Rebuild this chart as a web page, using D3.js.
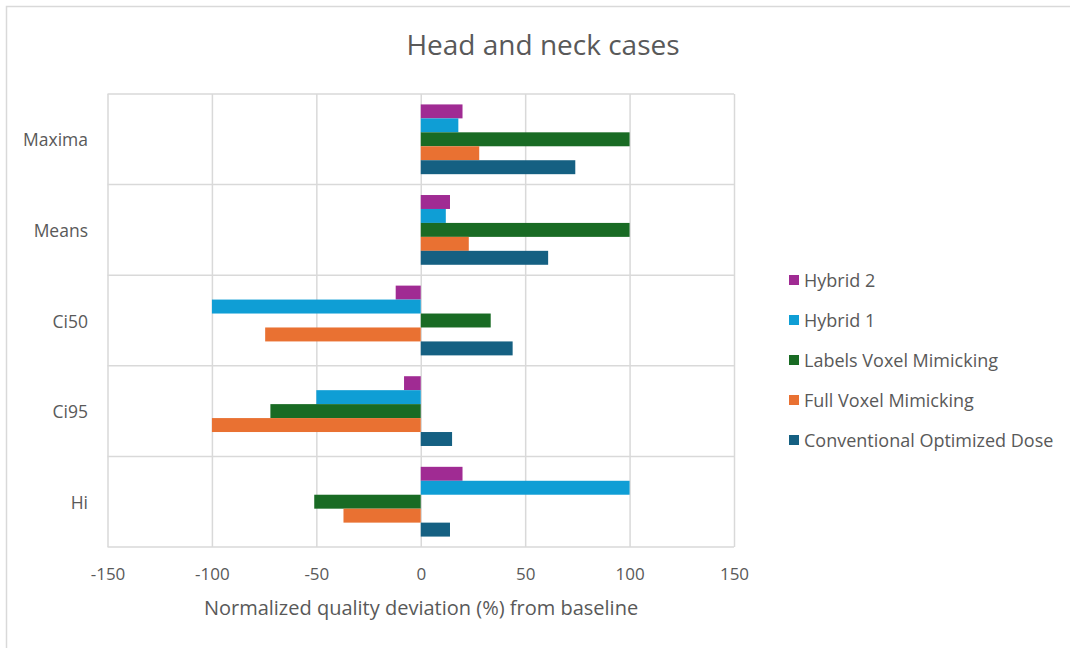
<!DOCTYPE html>
<html>
<head>
<meta charset="utf-8">
<script src="https://cdn.jsdelivr.net/npm/d3@7"></script>
<style>
  html, body { margin: 0; padding: 0; background: #fff; }
  svg { display: block; }
  text { font-family: "Open Sans", "Noto Sans", sans-serif; fill: #595959; }
</style>
</head>
<body>
<svg id="chart" width="1070" height="648"></svg>
<script>
// Categories, top to bottom
const categories = ["Maxima", "Means", "Ci50", "Ci95", "Hi"];

// Series, in the order they are stacked inside each category (top to bottom)
const seriesNames = ["Hybrid 2", "Hybrid 1", "Labels Voxel Mimicking", "Full Voxel Mimicking", "Conventional Optimized Dose"];
const seriesColors = ["#A02B93", "#0F9ED5", "#196B24", "#E97132", "#156082"];

// Values per series, aligned with categories
const hybrid2 = [20, 14, -12, -8, 20];
const hybrid1 = [18, 12, -100, -50, 100];
const labelsVoxel = [100, 100, 33.5, -72, -51];
const fullVoxel = [28, 23, -74.5, -100, -37];
const conventional = [74, 61, 44, 15, 14];
const seriesValues = [hybrid2, hybrid1, labelsVoxel, fullVoxel, conventional];

const xTicks = [-150, -100, -50, 0, 50, 100, 150];

const svg = d3.select("#chart");
const W = 1070, H = 648;

// outer chart frame
svg.append("rect")
  .attr("x", 6.5).attr("y", 6.5)
  .attr("width", W + 10).attr("height", H + 10)
  .attr("fill", "none").attr("stroke", "#d9d9d9").attr("stroke-width", 1.5);

const plot = { left: 107.5, right: 734, top: 94, bottom: 547 };

const x = d3.scaleLinear().domain([-150, 150]).range([plot.left, plot.right]);
const y0 = d3.scaleBand().domain(categories)
  .range([plot.top, plot.bottom]).paddingInner(0.23).paddingOuter(0.115);
const y1 = d3.scaleBand().domain(seriesNames).range([0, y0.bandwidth()]);

// title
svg.append("text")
  .attr("x", 543).attr("y", 55)
  .attr("text-anchor", "middle").attr("font-size", 28)
  .text("Head and neck cases");

// vertical gridlines via axis
svg.append("g")
  .attr("transform", `translate(0,${plot.top})`)
  .call(d3.axisBottom(x).tickValues(xTicks).tickSize(plot.bottom - plot.top).tickFormat(""))
  .call(g => g.select(".domain").remove())
  .call(g => g.selectAll("line").attr("stroke", "#d9d9d9").attr("stroke-width", 1.5));

// horizontal category separators
const sepY = d3.range(categories.length + 1).map(i => plot.top + i * (plot.bottom - plot.top) / categories.length);
svg.append("g").selectAll("line").data(sepY).join("line")
  .attr("x1", plot.left).attr("x2", plot.right)
  .attr("y1", d => d).attr("y2", d => d)
  .attr("stroke", "#d9d9d9").attr("stroke-width", 1.5);

// bars
const groups = svg.append("g").selectAll("g").data(categories).join("g")
  .attr("transform", d => `translate(0,${y0(d)})`);
groups.selectAll("rect")
  .data((c, ci) => seriesNames.map((s, si) => ({ s, si, v: seriesValues[si][ci] })))
  .join("rect")
  .attr("x", d => x(Math.min(0, d.v)))
  .attr("width", d => Math.abs(x(d.v) - x(0)))
  .attr("y", d => y1(d.s))
  .attr("height", y1.bandwidth())
  .attr("fill", d => seriesColors[d.si]);

// x tick labels (plain hyphen for negatives)
svg.append("g")
  .attr("transform", `translate(0,${plot.bottom})`)
  .call(d3.axisBottom(x).tickValues(xTicks).tickSize(0).tickPadding(21).tickFormat(d => String(d)))
  .call(g => g.select(".domain").remove())
  .call(g => g.selectAll("text").attr("font-size", 17).attr("fill", "#595959")
    .style("font-family", '"Open Sans", "Noto Sans", sans-serif'));

// category labels
svg.append("g").selectAll("text").data(categories).join("text")
  .attr("x", 88).attr("y", d => y0(d) + y0.bandwidth() / 2)
  .attr("text-anchor", "end").attr("dominant-baseline", "central")
  .attr("font-size", 17.5)
  .text(d => d);

// x axis title
svg.append("text")
  .attr("x", 421).attr("y", 615)
  .attr("text-anchor", "middle").attr("font-size", 20)
  .text("Normalized quality deviation (%) from baseline");

// legend
const legend = svg.append("g").selectAll("g").data(seriesNames).join("g")
  .attr("transform", (d, i) => `translate(789,${280 + i * 40})`);
legend.append("rect")
  .attr("x", 0).attr("y", -5).attr("width", 10).attr("height", 10)
  .attr("fill", (d, i) => seriesColors[i]);
legend.append("text")
  .attr("x", 15).attr("y", 0).attr("dominant-baseline", "central")
  .attr("font-size", 18)
  .text(d => d);
</script>
</body>
</html>
